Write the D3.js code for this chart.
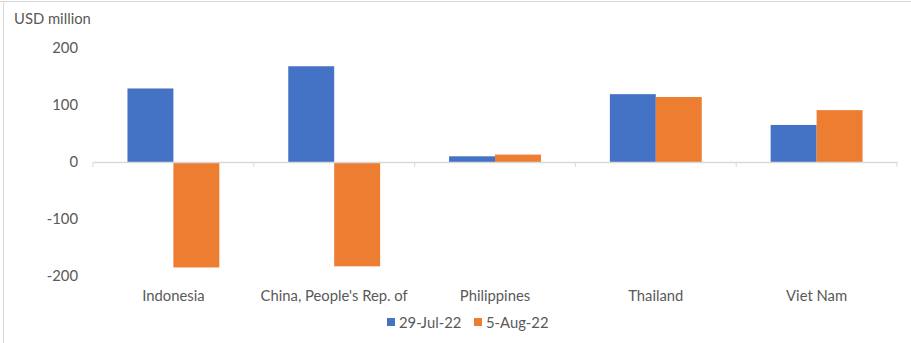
<!DOCTYPE html>
<html><head><meta charset="utf-8">
<script src="https://cdn.jsdelivr.net/npm/d3@7"></script>
<style>body{margin:0;background:#fff}svg{display:block}text{font-family:Lato,"Open Sans",sans-serif;fill:#595959}</style>
</head><body><div id="c"></div>
<script>
const categories = ["Indonesia", "China, People's Rep. of", "Philippines", "Thailand", "Viet Nam"];
const seriesNames = ["29-Jul-22", "5-Aug-22"];
const jul29 = [129, 168, 10, 119, 65];
const aug5 = [-185, -183, 13, 114, 91];
const yTicks = [-200, -100, 0, 100, 200];
const colors = ["#4472C4", "#ED7D31"];

const W = 911, H = 343;
const FS = "14.8px";
const svg = d3.select("#c").append("svg").attr("width", W).attr("height", H);
// frame
svg.append("line").attr("x1", 0).attr("x2", W).attr("y1", 1.5).attr("y2", 1.5).attr("stroke", "#d9d9d9");
svg.append("line").attr("x1", 3.5).attr("x2", 3.5).attr("y1", 1.5).attr("y2", H).attr("stroke", "#d9d9d9");

const x0 = d3.scaleBand().domain(categories).range([93, 897]).paddingInner(0).paddingOuter(0);
const y = d3.scaleLinear().domain([-200, 200]).range([276, 48]);
const x1 = d3.scaleBand().domain(seriesNames).range([0, x0.bandwidth()]).paddingInner(0).paddingOuter(0.75);

const series = [jul29, aug5];
categories.forEach((c, i) => {
  series.forEach((s, j) => {
    const v = s[i];
    svg.append("rect")
      .attr("x", x0(c) + x1(seriesNames[j]))
      .attr("width", x1.bandwidth())
      .attr("y", y(Math.max(0, v)))
      .attr("height", Math.abs(y(v) - y(0)))
      .attr("fill", colors[j]);
  });
});

// zero axis
const axis = svg.append("g").attr("transform", `translate(0,${y(0)})`)
  .call(d3.axisBottom(x0).tickSize(0).tickFormat(""));
axis.select(".domain").attr("stroke", "#d9d9d9").attr("stroke-width", 1.5);
const bounds = categories.map(c => x0(c)).concat([x0.range()[1]]);
svg.selectAll(".tk").data(bounds).enter().append("line")
  .attr("x1", d => d).attr("x2", d => d).attr("y1", y(0)).attr("y2", y(0) + 5)
  .attr("stroke", "#d9d9d9");

// category labels
svg.selectAll(".cl").data(categories).enter().append("text")
  .attr("x", d => x0(d) + x0.bandwidth() / 2).attr("y", 301)
  .attr("text-anchor", "middle").attr("font-size", FS).text(d => d);

// y axis labels
const yAxis = svg.append("g").attr("transform", "translate(78,0)")
  .call(d3.axisLeft(y).tickValues(yTicks).tickSize(0).tickPadding(0).tickFormat(d => String(d)));
yAxis.select(".domain").remove();
yAxis.selectAll("text").attr("font-size", FS).attr("font-family", "Lato, sans-serif").attr("fill", "#595959");

svg.append("text").attr("x", 14).attr("y", 24).attr("font-size", FS).text("USD million");

// legend
const leg = svg.append("g");
const legX = [387, 474];
seriesNames.forEach((n, j) => {
  leg.append("rect").attr("x", legX[j]).attr("y", 318).attr("width", 8).attr("height", 8).attr("fill", colors[j]);
  leg.append("text").attr("x", legX[j] + 12).attr("y", 327.5).attr("font-size", FS).text(n);
});
</script></body></html>
